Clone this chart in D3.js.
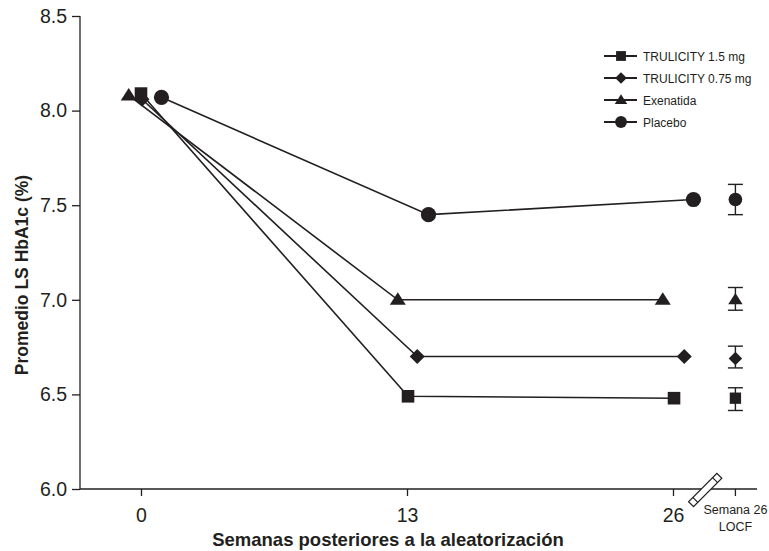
<!DOCTYPE html>
<html><head><meta charset="utf-8">
<script src="https://cdn.jsdelivr.net/npm/d3@7"></script>
<style>body{margin:0;background:#fff}svg{display:block}text{font-family:"Liberation Sans",Arial,sans-serif;fill:#231f20}</style>
</head><body><svg id="c" width="769" height="551"></svg>
<script>
// ---- data ----
const seriesNames = ["TRULICITY 1.5 mg", "TRULICITY 0.75 mg", "Exenatida", "Placebo"];
const seriesSymbols = ["square", "diamond", "triangle", "circle"];
const weeks = [0, 13, 26];
// plotted week positions (slight horizontal jitter in the original figure)
const xTrul15 = [0, 13.05, 26.05];
const xTrul075 = [0.05, 13.5, 26.55];
const xExen = [-0.6, 12.55, 25.5];
const xPlac = [1.0, 14.05, 27.0];
const yTrul15 = [8.09, 6.49, 6.48];
const yTrul075 = [8.06, 6.70, 6.70];
const yExen = [8.08, 7.00, 7.00];
const yPlac = [8.07, 7.45, 7.53];
const locfWeek = 29.05;
const locfMean = [6.48, 6.69, 7.00, 7.53];
const locfLow = [6.415, 6.64, 6.945, 7.45];
const locfHigh = [6.535, 6.755, 7.065, 7.61];
const yTicks = [6.0, 6.5, 7.0, 7.5, 8.0, 8.5];
const xTickLabels = ["0", "13", "26"];
const locfLabel = ["Semana 26", "LOCF"];
const xTitle = "Semanas posteriores a la aleatorización";
const yTitle = "Promedio LS HbA1c (%)";

const INK = "#231f20";
const svg = d3.select("#c");
const x = d3.scaleLinear().domain([0, 13]).range([141, 407]);
const y = d3.scaleLinear().domain([6, 8.5]).range([489, 16]);
const xLeft = 80, xRight = 757;

// y axis
const yAxis = d3.axisLeft(y).tickValues(yTicks).tickFormat(d3.format(".1f")).tickSize(8).tickPadding(5);
const gy = svg.append("g").attr("transform", `translate(${xLeft},0)`).call(yAxis);
gy.select(".domain").remove();
gy.append("line").attr("x1", 0).attr("x2", 0).attr("y1", y(8.5)).attr("y2", y(6)).attr("stroke", INK).attr("stroke-width", 1.3);
gy.selectAll(".tick line").attr("stroke", INK).attr("stroke-width", 1.3);
gy.selectAll(".tick text").attr("font-size", 19.5).attr("fill", INK).style("font-family", "Liberation Sans, Arial, sans-serif");

// x axis
const xAxis = d3.axisBottom(x).tickValues(weeks).tickFormat((d, i) => xTickLabels[i]).tickSize(7).tickPadding(12);
const gx = svg.append("g").attr("transform", `translate(0,${y(6)})`).call(xAxis);
gx.select(".domain").remove();
gx.append("line").attr("x1", xLeft).attr("x2", xRight).attr("y1", 0).attr("y2", 0).attr("stroke", INK).attr("stroke-width", 1.3);
gx.selectAll(".tick line").attr("stroke", INK).attr("stroke-width", 1.3);
gx.selectAll(".tick text").attr("font-size", 19.5).attr("fill", INK).style("font-family", "Liberation Sans, Arial, sans-serif");
// LOCF tick
gx.append("line").attr("x1", x(locfWeek)).attr("x2", x(locfWeek)).attr("y1", 0).attr("y2", 7).attr("stroke", INK).attr("stroke-width", 1.3);
gx.append("text").attr("x", x(locfWeek)).attr("y", 25).attr("text-anchor", "middle").attr("font-size", 12.5).text(locfLabel[0]);
gx.append("text").attr("x", x(locfWeek)).attr("y", 42).attr("text-anchor", "middle").attr("font-size", 12.5).text(locfLabel[1]);

// axis break symbol between 26 and LOCF
const bx = (x(26) + x(locfWeek)) / 2 + 1;
const brk = gx.append("g").attr("transform", `translate(${bx},1) rotate(-45)`);
brk.append("rect").attr("x", -20).attr("y", -3.5).attr("width", 40).attr("height", 7).attr("fill", "#fff").attr("stroke", INK).attr("stroke-width", 1.2);
brk.append("line").attr("x1", -14).attr("x2", -14).attr("y1", -3.5).attr("y2", 3.5).attr("stroke", INK).attr("stroke-width", 1.2);
brk.append("line").attr("x1", 14).attr("x2", 14).attr("y1", -3.5).attr("y2", 3.5).attr("stroke", INK).attr("stroke-width", 1.2);

// titles
svg.append("text").attr("x", 388).attr("y", 546).attr("text-anchor", "middle").attr("font-size", 18.5).attr("font-weight", "bold").text(xTitle);
svg.append("text").attr("transform", `translate(28,275) rotate(-90)`).attr("text-anchor", "middle").attr("font-size", 17.5).attr("font-weight", "bold").text(yTitle);

// symbols (custom shapes, k = size factor)
function sym(name, k) {
  k = k || 1;
  if (name === "square") { const s = 6.3 * k; return `M${-s},${-s}H${s}V${s}H${-s}Z`; }
  if (name === "diamond") { const h = 7.5 * k; return `M0,${-h}L${h},0L0,${h}L${-h},0Z`; }
  if (name === "triangle") { const w = 8 * k, t = 7.5 * k, b = 5 * k; return `M0,${-t}L${w},${b}L${-w},${b}Z`; }
  const r = 7.6 * k;
  return `M${r},0A${r},${r} 0 1,1 ${-r},0A${r},${r} 0 1,1 ${r},0Z`;
}

const series = [
  {xs: xTrul15, ys: yTrul15}, {xs: xTrul075, ys: yTrul075}, {xs: xExen, ys: yExen}, {xs: xPlac, ys: yPlac}
];
const line = d3.line().x(d => x(d[0])).y(d => y(d[1]));
const drawOrder = [3, 2, 1, 0];
drawOrder.forEach(i => {
  const s = series[i];
  const pts = s.xs.map((v, j) => [v, s.ys[j]]);
  svg.append("path").attr("d", line(pts)).attr("fill", "none").attr("stroke", INK).attr("stroke-width", 1.6);
});
drawOrder.forEach(i => {
  const s = series[i];
  s.xs.forEach((v, j) => {
    svg.append("path").attr("d", sym(seriesSymbols[i])).attr("transform", `translate(${x(v)},${y(s.ys[j])})`).attr("fill", INK);
  });
});

// LOCF with error bars
locfMean.forEach((m, i) => {
  const cx = x(locfWeek);
  const g = svg.append("g");
  g.append("line").attr("x1", cx).attr("x2", cx).attr("y1", y(locfLow[i])).attr("y2", y(locfHigh[i])).attr("stroke", INK).attr("stroke-width", 1.4);
  [locfLow[i], locfHigh[i]].forEach(v => g.append("line").attr("x1", cx - 7.5).attr("x2", cx + 7.5).attr("y1", y(v)).attr("y2", y(v)).attr("stroke", INK).attr("stroke-width", 1.4));
  g.append("path").attr("d", sym(seriesSymbols[i], 0.9)).attr("transform", `translate(${cx},${y(m)})`).attr("fill", INK);
});

// legend
const leg = svg.append("g").attr("transform", "translate(604,56)");
seriesNames.forEach((n, i) => {
  const r = leg.append("g").attr("transform", `translate(0,${i * 22})`);
  r.append("line").attr("x1", 0).attr("x2", 33).attr("y1", 0).attr("y2", 0).attr("stroke", INK).attr("stroke-width", 2);
  r.append("path").attr("d", sym(seriesSymbols[i], 0.78)).attr("transform", `translate(17,0)`).attr("fill", INK);
  r.append("text").attr("x", 39).attr("y", 4.5).attr("font-size", 12).text(n);
});
</script></body></html>
